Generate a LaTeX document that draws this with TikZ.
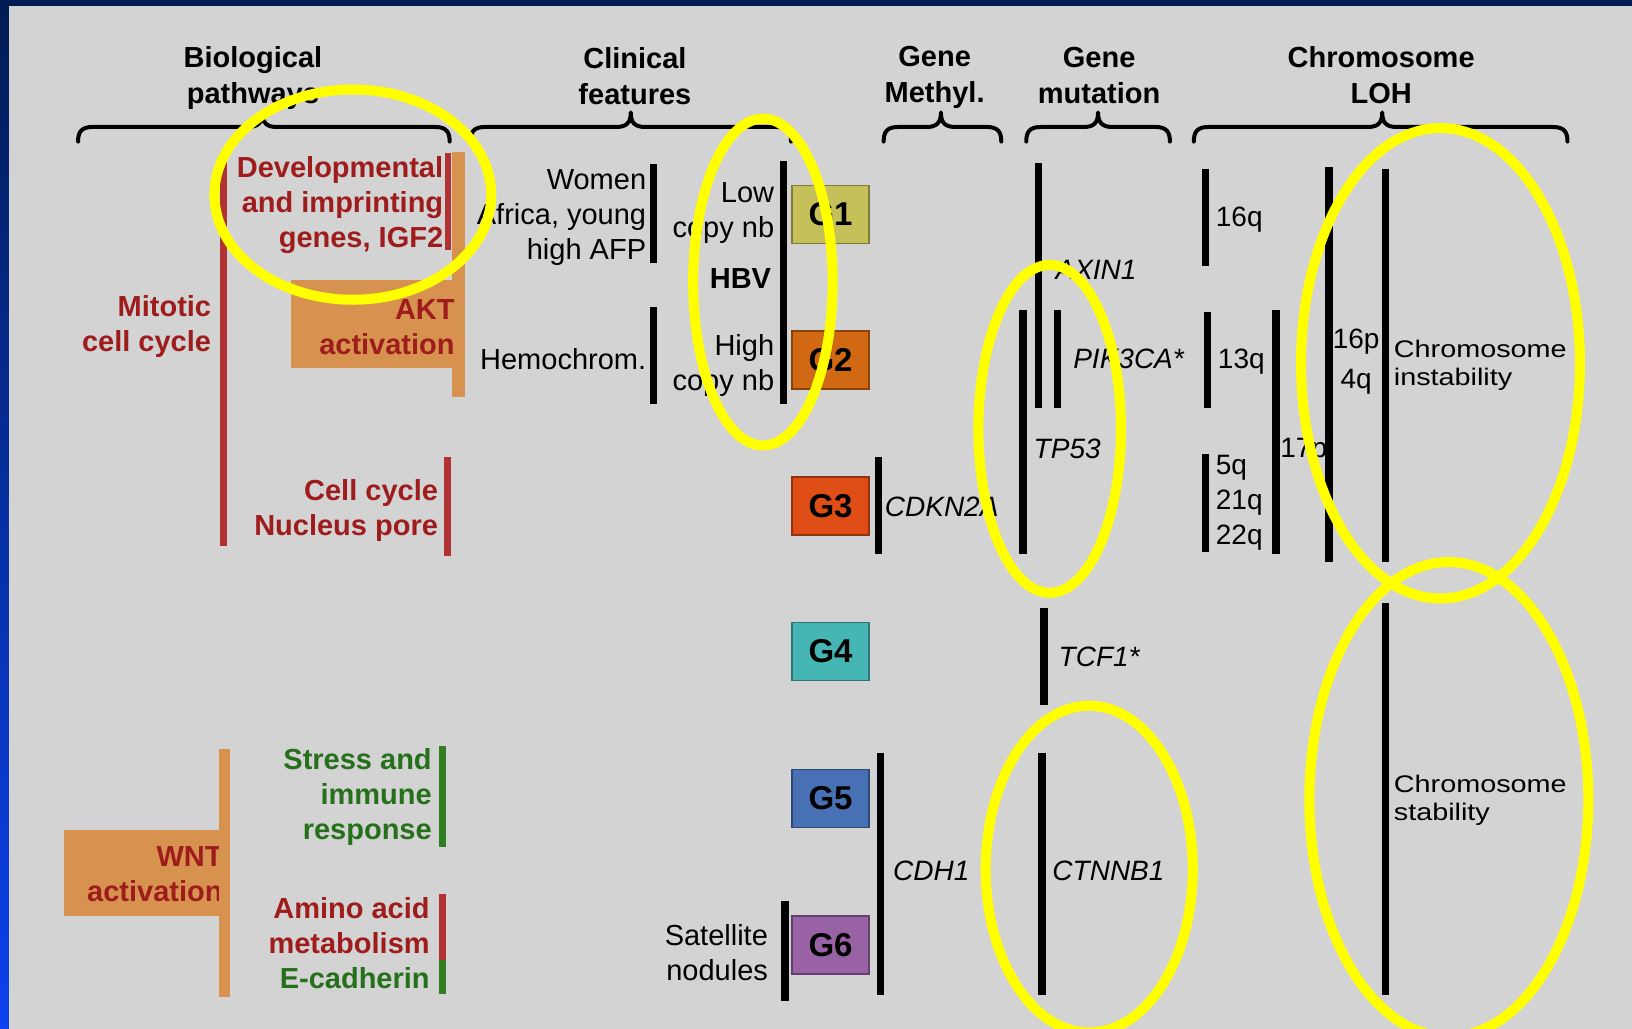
\documentclass[tikz,border=0pt]{standalone}
\usepackage{fontspec}
\setmainfont{Liberation Sans}
\newfontfamily\stretchfont[FakeStretch=1.2]{Liberation Sans}
\definecolor{gbg}{RGB}{211,211,211}
\definecolor{navy}{RGB}{0,28,84}
\definecolor{brightblue}{RGB}{12,66,240}
\definecolor{dred}{RGB}{158,28,28}
\definecolor{barred}{RGB}{176,50,50}
\definecolor{orng}{RGB}{216,146,80}
\definecolor{dgreen}{RGB}{38,112,28}
\definecolor{gbar}{RGB}{48,128,34}
\definecolor{hly}{RGB}{255,255,0}
\definecolor{cGa}{RGB}{197,192,90}
\definecolor{cGb}{RGB}{208,104,20}
\definecolor{cGc}{RGB}{222,78,22}
\definecolor{cGd}{RGB}{70,182,180}
\definecolor{cGe}{RGB}{72,112,180}
\definecolor{cGf}{RGB}{152,98,164}
\newcommand\mybrace[3]{\draw[brc] (#1,136) .. controls (#1,127) and (#1+3,122) .. (#1+14,122) -- (#2-14,122) .. controls (#2-4,122) and (#2,118) .. (#2,108) .. controls (#2,118) and (#2+4,122) .. (#2+14,122) -- (#3-14,122) .. controls (#3-3,122) and (#3,127) .. (#3,136);}
\tikzset{
  hdr/.style={font=\bfseries\fontsize{29}{36}\selectfont, align=center, inner sep=0pt},
  pw/.style={font=\bfseries\fontsize{29}{35}\selectfont, align=right, anchor=east, inner sep=0pt, text=dred},
  clin/.style={font=\fontsize{29}{35}\selectfont, align=right, anchor=east, inner sep=0pt},
  gene/.style={font=\itshape\fontsize{28}{35}\selectfont, anchor=west, inner sep=0pt},
  loh/.style={font=\fontsize{28}{35}\selectfont, align=left, anchor=west, inner sep=0pt},
  small/.style={font=\stretchfont\fontsize{24}{28}\selectfont, align=left, anchor=west, inner sep=0pt},
  grp/.style={draw=#1!65!black, fill=#1, line width=1.5pt, minimum width=77pt, minimum height=58pt, inner sep=0pt, font=\bfseries\fontsize{33}{36}\selectfont},
  obox/.style={fill=orng, inner sep=0pt},
  kbar/.style={line width=7.5pt, black},
  rbar/.style={line width=6.5pt, barred},
  brc/.style={line width=4pt, black, line join=round, line cap=round},
  hl/.style={draw=hly, line width=10pt},
}
\begin{document}
\begin{tikzpicture}[x=1.0408pt, y=-1.0408pt]
\useasboundingbox (0,0) rectangle (1568,988.6);
\shade[top color=navy, bottom color=brightblue] (0,0) rectangle (1568,988.6);
\fill[gbg] (8.65,5.76) rectangle (1568,988.6);

% headers
\node[hdr] (hBio) at (243,75) {Biological\\pathways};
\node[hdr] (hClin) at (610,73) {Clinical\\features};
\node[hdr] (hMeth) at (898,74) {Gene\\Methyl.};
\node[hdr] (hMut) at (1056,73) {Gene\\mutation};
\node[hdr] (hLOH) at (1327,72) {Chromosome\\LOH};

\mybrace{75}{252}{432}
\mybrace{452}{606}{760}
\mybrace{849}{904}{962}
\mybrace{986}{1055}{1124}
\mybrace{1147}{1328}{1506}

% groups
\node[grp=cGa] (G1) at (798,206) {G1};
\node[grp=cGb] (G2) at (798,346) {G2};
\node[grp=cGc] (G3) at (798,486) {G3};
\node[grp=cGd] (G4) at (798,626) {G4};
\node[grp=cGe] (G5) at (798,767) {G5};
\node[grp=cGf] (G6) at (798,908) {G6};

% biological pathways
\node[obox, minimum width=164pt, minimum height=88pt] (akt) at (358,311.5) {};
\fill[orng] (434.5,146) rectangle (447,381);
\node[pw] (tDev) at (426,197) {Developmental\\and imprinting\\genes, IGF2};
\draw[rbar, line width=5.5pt] (430.5,147) -- (430.5,240);
\node[pw] (tAKT) at (437,314) {AKT\\activation};
\node[pw] (tMit) at (203,314) {Mitotic\\cell cycle};
\draw[rbar, line width=7pt] (215,146) -- (215,525);
\node[pw] (tCC) at (421,490) {Cell cycle\\Nucleus pore};
\draw[rbar] (430,439) -- (430,534);

\node[obox, minimum width=156pt, minimum height=86pt] (wnt) at (136,838.5) {};
\node[pw] (tWNT) at (214,840) {WNT\\activation};
\fill[orng] (210,720) rectangle (221,958);
\node[pw, text=dgreen] (tStr) at (415,766) {Stress and\\immune\\response};
\draw[line width=7pt, gbar] (425,717) -- (425,814);
\node[pw] (tAA) at (413,889) {Amino acid\\metabolism};
\node[pw, text=dgreen] (tEC) at (413,940) {E-cadherin};
\draw[line width=7pt, barred] (425,859) -- (425,922);
\draw[line width=7pt, gbar] (425,922) -- (425,955);

% clinical features
\node[clin] (tWom) at (621,209) {Women\\Africa, young\\high AFP};
\draw[kbar] (628,158) -- (628,253);
\node[clin] (tHem) at (621,345) {Hemochrom.};
\draw[kbar] (628,295) -- (628,388);
\node[clin] (tLow) at (744,205) {Low\\copy nb};
\node[clin, font=\bfseries\fontsize{29}{35}\selectfont] (tHBV) at (741,268) {HBV};
\node[clin] (tHigh) at (744,351) {High\\copy nb};
\draw[kbar] (753,155) -- (753,388);
\node[clin] (tSat) at (738,915) {Satellite\\nodules};
\draw[kbar] (754,866) -- (754,962);

% gene methylation
\draw[kbar] (844,439) -- (844,532);
\node[gene] (tCDKN) at (850,487) {CDKN2A};
\draw[kbar] (846,723) -- (846,956);
\node[gene] (tCDH) at (858,837) {CDH1};

% gene mutation
\draw[kbar] (998,157) -- (998,392);
\node[gene] (tAXIN) at (1014,259) {AXIN1};
\draw[kbar] (983,298) -- (983,532);
\node[gene] (tTP53) at (993,431) {TP53};
\draw[kbar] (1016,298) -- (1016,392);
\node[gene] (tPIK) at (1031,345) {PIK3CA*};
\draw[kbar] (1003,584) -- (1003,677);
\node[gene] (tTCF) at (1017,631) {TCF1*};
\draw[kbar] (1001,723) -- (1001,956);
\node[gene] (tCTN) at (1011,837) {CTNNB1};

% chromosome LOH
\draw[kbar] (1158,162) -- (1158,256);
\node[loh] (t16q) at (1168,211) {16q};
\draw[kbar] (1160,300) -- (1160,392);
\node[loh] (t13q) at (1170,347) {13q};
\draw[kbar] (1158,436) -- (1158,530);
\node[loh] (t5q) at (1168,483) {5q\\21q\\22q};
\draw[kbar] (1226,298) -- (1226,532);
\node[loh] (t17p) at (1230,433) {17p};
\draw[kbar] (1277,160) -- (1277,540);
\node[loh, anchor=center, align=center, font=\fontsize{28}{40}\selectfont] (t16p) at (1303,347) {16p\\4q};
\draw[kbar] (1331,162) -- (1331,540);
\node[small] (tInst) at (1339,351) {Chromosome\\instability};
\draw[kbar] (1331,579) -- (1331,956);
\node[small] (tStab) at (1339,769) {Chromosome\\stability};

% highlight ellipses
\draw[hl] (339,187) ellipse [x radius=133, y radius=101];
\draw[hl] (733,271) ellipse [x radius=67, y radius=157];
\draw[hl] (1008.5,412) ellipse [x radius=68.5, y radius=157.5];
\draw[hl] (1046.5,835) ellipse [x radius=99.5, y radius=157];
\draw[hl] (1384,349) ellipse [x radius=134, y radius=226];
\draw[hl] (1392,768) ellipse [x radius=134, y radius=228];
\end{tikzpicture}
\end{document}
